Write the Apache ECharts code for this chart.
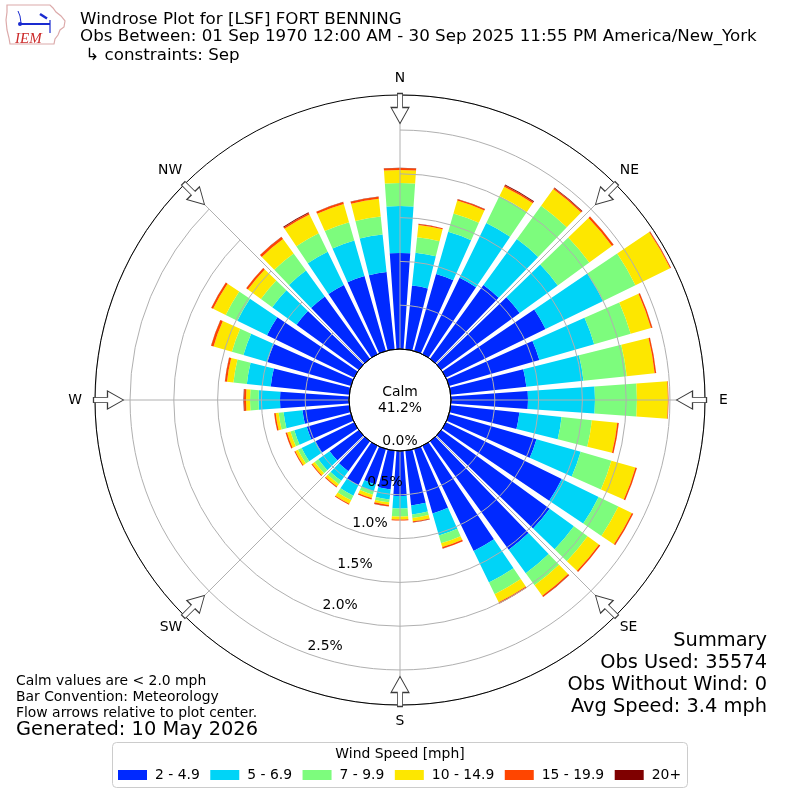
<!DOCTYPE html>
<html><head><meta charset="utf-8">
<script src="https://cdn.jsdelivr.net/npm/echarts@6/dist/echarts.min.js"></script>
<style>html,body{margin:0;padding:0;background:#fff}#c{width:800px;height:800px}</style>
</head><body><div id="c"></div>
<script>
// ---- data (percent of observations per direction / speed bin) ----
const directions = ['0','10','20','30','40','50','60','70','80','90','100','110','120','130','140','150','160','170',
  '180','190','200','210','220','230','240','250','260','270','280','290','300','310','320','330','340','350'];
const speedBins = ['2 - 4.9','5 - 6.9','7 - 9.9','10 - 14.9','15 - 19.9','20+'];
const binColors = ['#0029ff','#00d4f7','#7dfc7d','#fde700','#ff4500','#7f0000'];
const bin2to4 = [1.096,0.731,0.913,0.970,1.039,1.107,1.267,1.073,0.868,0.879,0.788,1.039,1.473,1.530,1.530,1.336,0.765,0.628,
  0.514,0.445,0.422,0.502,0.422,0.411,0.491,0.525,0.537,0.788,0.902,0.993,1.107,0.879,0.879,0.879,0.890,0.886];
const bin5to6 = [0.537,0.377,0.502,0.696,0.650,0.537,0.731,0.651,0.656,0.765,0.485,0.525,0.468,0.342,0.331,0.400,0.263,0.103,
  0.143,0.114,0.080,0.131,0.137,0.160,0.177,0.148,0.217,0.245,0.274,0.285,0.377,0.342,0.365,0.422,0.422,0.433];
const bin7to9 = [0.263,0.177,0.217,0.342,0.470,0.445,0.411,0.434,0.497,0.479,0.348,0.365,0.251,0.194,0.171,0.148,0.091,0.040,
  0.091,0.034,0.040,0.057,0.046,0.051,0.046,0.046,0.057,0.097,0.154,0.137,0.148,0.160,0.240,0.234,0.217,0.204];
const bin10to14 = [0.148,0.143,0.154,0.120,0.235,0.320,0.440,0.240,0.320,0.354,0.291,0.285,0.171,0.160,0.148,0.103,0.046,0.040,
  0.034,0.029,0.040,0.046,0.034,0.034,0.034,0.040,0.034,0.046,0.074,0.217,0.160,0.183,0.205,0.240,0.217,0.204];
const bin15to19 = [0.023,0.011,0.017,0.017,0.017,0.023,0.011,0.017,0.017,0.006,0.017,0.017,0.017,0.017,0.017,0.017,0.017,0.011,
  0.011,0.017,0.017,0.011,0.011,0.011,0.011,0.017,0.017,0.023,0.023,0.029,0.023,0.023,0.029,0.017,0.023,0.024];
const bin20plus = [0.002,0.001,0.002,0.011,0.006,0.002,0.001,0.001,0.001,0.001,0.001,0.001,0.001,0.001,0.002,0.001,0.001,0.001,
  0.001,0.001,0.001,0.001,0.001,0.001,0.001,0.001,0.001,0.006,0.002,0.002,0.002,0.002,0.002,0.011,0.002,0.002];
const compassLabels = ['N','NE','E','SE','S','SW','W','NW'];
const compassBearings = [0,45,90,135,180,225,270,315];
const radialMax = 2.9;
const radialLabelMax = 2.5;
const radialInterval = 0.5;
const arrowRadius = 2.746;
const calmText = ['Calm','41.2%'];
const titleLines = ['Windrose Plot for [LSF] FORT BENNING',
  'Obs Between: 01 Sep 1970 12:00 AM - 30 Sep 2025 11:55 PM America/New_York',
  ' \u21b3 constraints: Sep'];
const noteLines = ['Calm values are < 2.0 mph','Bar Convention: Meteorology','Flow arrows relative to plot center.'];
const generatedText = 'Generated: 10 May 2026';
const summaryLines = ['Summary','Obs Used: 35574','Obs Without Wind: 0','Avg Speed: 3.4 mph'];
const legendTitle = 'Wind Speed [mph]';

const binData = [bin2to4, bin5to6, bin7to9, bin10to14, bin15to19, bin20plus];
const FF = 'DejaVu Sans';
const chart = echarts.init(document.getElementById('c'), null, {renderer:'canvas'});

const barSeries = speedBins.map((name, i) => ({
  name, type:'bar', coordinateSystem:'polar', polarIndex:0, stack:'wind',
  data: binData[i], barCategoryGap:'20%', z:2, silent:true,
  itemStyle:{color: binColors[i]}
}));

const arrowPath = 'path://M-2.6,-15 L2.6,-15 L2.6,-1 L9,-1 L0,15 L-9,-1 L-2.6,-1 Z';
const arrowSeries = {
  type:'scatter', coordinateSystem:'polar', polarIndex:1, z:6, silent:true,
  symbol: arrowPath, symbolSize:[18,30],
  itemStyle:{color:'#ffffff', borderColor:'#3a3a3a', borderWidth:1, opacity:1},
  data: compassLabels.map((c, i) => ({value:[arrowRadius, i], symbolRotate: -compassBearings[i]}))
};

// label nudges (padding) so compass names sit centred just outside the ring
const compassPadding = [[0,0,7,0],[0,0,5,2],[0,0,0,11],[3,0,0,2],[6,0,0,0],[3,0,0,0],[0,10,0,0],[0,0,5,0]];
const compassData = compassLabels.map((c, i) => ({value:c, textStyle:{padding: compassPadding[i]}}));

function txt(x, y, text, size, align, extra) {
  return Object.assign({type:'text', x, y, z:100, silent:true, style:{
    text, fill:'#000', font: size + 'px "' + FF + '"', textAlign: align || 'left', textVerticalAlign:'middle',
    align: align || 'left', verticalAlign:'middle'}}, extra || {});
}

const graphics = [];
titleLines.forEach((t, i) => graphics.push(txt(80, [19.5, 37, 56][i], t, 16.7, 'left')));
graphics.push(txt(400, 392, calmText[0], 13.9, 'center'));
graphics.push(txt(400, 408, calmText[1], 13.9, 'center'));
noteLines.forEach((t, i) => graphics.push(txt(16, 681 + 16 * i, t, 13.9, 'left')));
graphics.push(txt(16, 730, generatedText, 19.4, 'left'));
summaryLines.forEach((t, i) => graphics.push(txt(767, 641 + 22 * i, t, 19.4, 'right')));
// legend frame + title
graphics.push({type:'rect', z:1, silent:true, shape:{x:112.5, y:742.5, width:575, height:45, r:4},
  style:{fill:'rgba(255,255,255,0.8)', stroke:'#cccccc', lineWidth:1}});
graphics.push(txt(400, 754, legendTitle, 13.9, 'center'));
// IEM logo (simplified)
graphics.push({type:'polygon', z:100, silent:true, shape:{points:[[7,5],[50,5],[53,8],[56,12],[61,16],[65,21],[64,27],[60,30],[58,35],[55,39],[54,44],[10,44],[9,38],[7,30],[6,20],[7,12]]},
  style:{fill:'none', stroke:'#dcaaaa', lineWidth:1.2}});
graphics.push({type:'polyline', z:101, silent:true, shape:{points:[[21,24],[50,24]]}, style:{stroke:'#1a2bd0', lineWidth:2}});
graphics.push({type:'polyline', z:101, silent:true, shape:{points:[[40,14],[47,18.5]]}, style:{stroke:'#1a2bd0', lineWidth:2.5}});
graphics.push({type:'polyline', z:101, silent:true, shape:{points:[[50,20],[50,33]]}, style:{stroke:'#1a2bd0', lineWidth:1.2}});
graphics.push({type:'polyline', z:101, silent:true, shape:{points:[[18,11],[20,16],[21,23]]}, style:{stroke:'#1a2bd0', lineWidth:1}});
graphics.push({type:'circle', z:101, silent:true, shape:{cx:20, cy:24, r:2}, style:{fill:'#1a2bd0'}});
graphics.push({type:'text', x:15, y:39, z:101, silent:true, style:{text:'IEM', fill:'#cc2a2a',
  font:'italic 15px "Liberation Serif"', textAlign:'left', textVerticalAlign:'middle', align:'left', verticalAlign:'middle'}});

const hidden = {axisLine:{show:false}, axisTick:{show:false}, axisLabel:{show:false}, splitLine:{show:false}, splitArea:{show:false}};

const option = {
  animation:false,
  backgroundColor:'#ffffff',
  polar:[
    {center:[400,400], radius:[51,305]},
    {center:[400,400], radius:[51,305]},
    {center:[417.4,393.1], radius:[51,270]},
    {center:[400,400], radius:[0,51]}
  ],
  angleAxis:[
    Object.assign({polarIndex:0, type:'category', data:directions, startAngle:95, clockwise:true}, hidden),
    {polarIndex:1, type:'category', data:compassData, boundaryGap:false, startAngle:90, clockwise:true, z:4,
      axisLine:{show:true, lineStyle:{color:'#000000', width:1}}, axisTick:{show:false},
      axisLabel:{show:true, margin:3, color:'#000', fontSize:13.9, fontFamily:FF},
      splitLine:{show:true, lineStyle:{color:'#b0b0b0', width:1}}, splitArea:{show:false}},
    Object.assign({polarIndex:2, type:'value', min:0, max:360, startAngle:250, clockwise:true}, hidden),
    Object.assign({polarIndex:3, type:'value', min:0, max:360, startAngle:90, z:5}, hidden,
      {axisLine:{show:true, lineStyle:{color:'#000000', width:1}}})
  ],
  radiusAxis:[
    Object.assign({polarIndex:0, type:'value', min:0, max:radialMax}, hidden),
    Object.assign({polarIndex:1, type:'value', min:0, max:radialMax, interval:radialInterval, z:3}, hidden,
      {splitLine:{show:true, lineStyle:{color:'#b0b0b0', width:1}}}),
    Object.assign({polarIndex:2, type:'value', min:0, max:radialLabelMax, interval:radialInterval, z:7}, hidden,
      {axisLabel:{show:true, margin:0, align:'center', verticalAlign:'middle', color:'#000', fontSize:13.9, fontFamily:FF,
        formatter: v => v.toFixed(1) + '%'}}),
    Object.assign({polarIndex:3, type:'value', min:0, max:1}, hidden)
  ],
  legend:{data:speedBins, left:113, top:763, icon:'rect', itemWidth:29, itemHeight:10, itemGap:10.5,
    selectedMode:false, textStyle:{fontSize:13.9, fontFamily:FF, color:'#000', padding:[0,0,0,3]}},
  series: barSeries.concat([arrowSeries]),
  graphic: graphics
};
chart.setOption(option);
</script></body></html>
